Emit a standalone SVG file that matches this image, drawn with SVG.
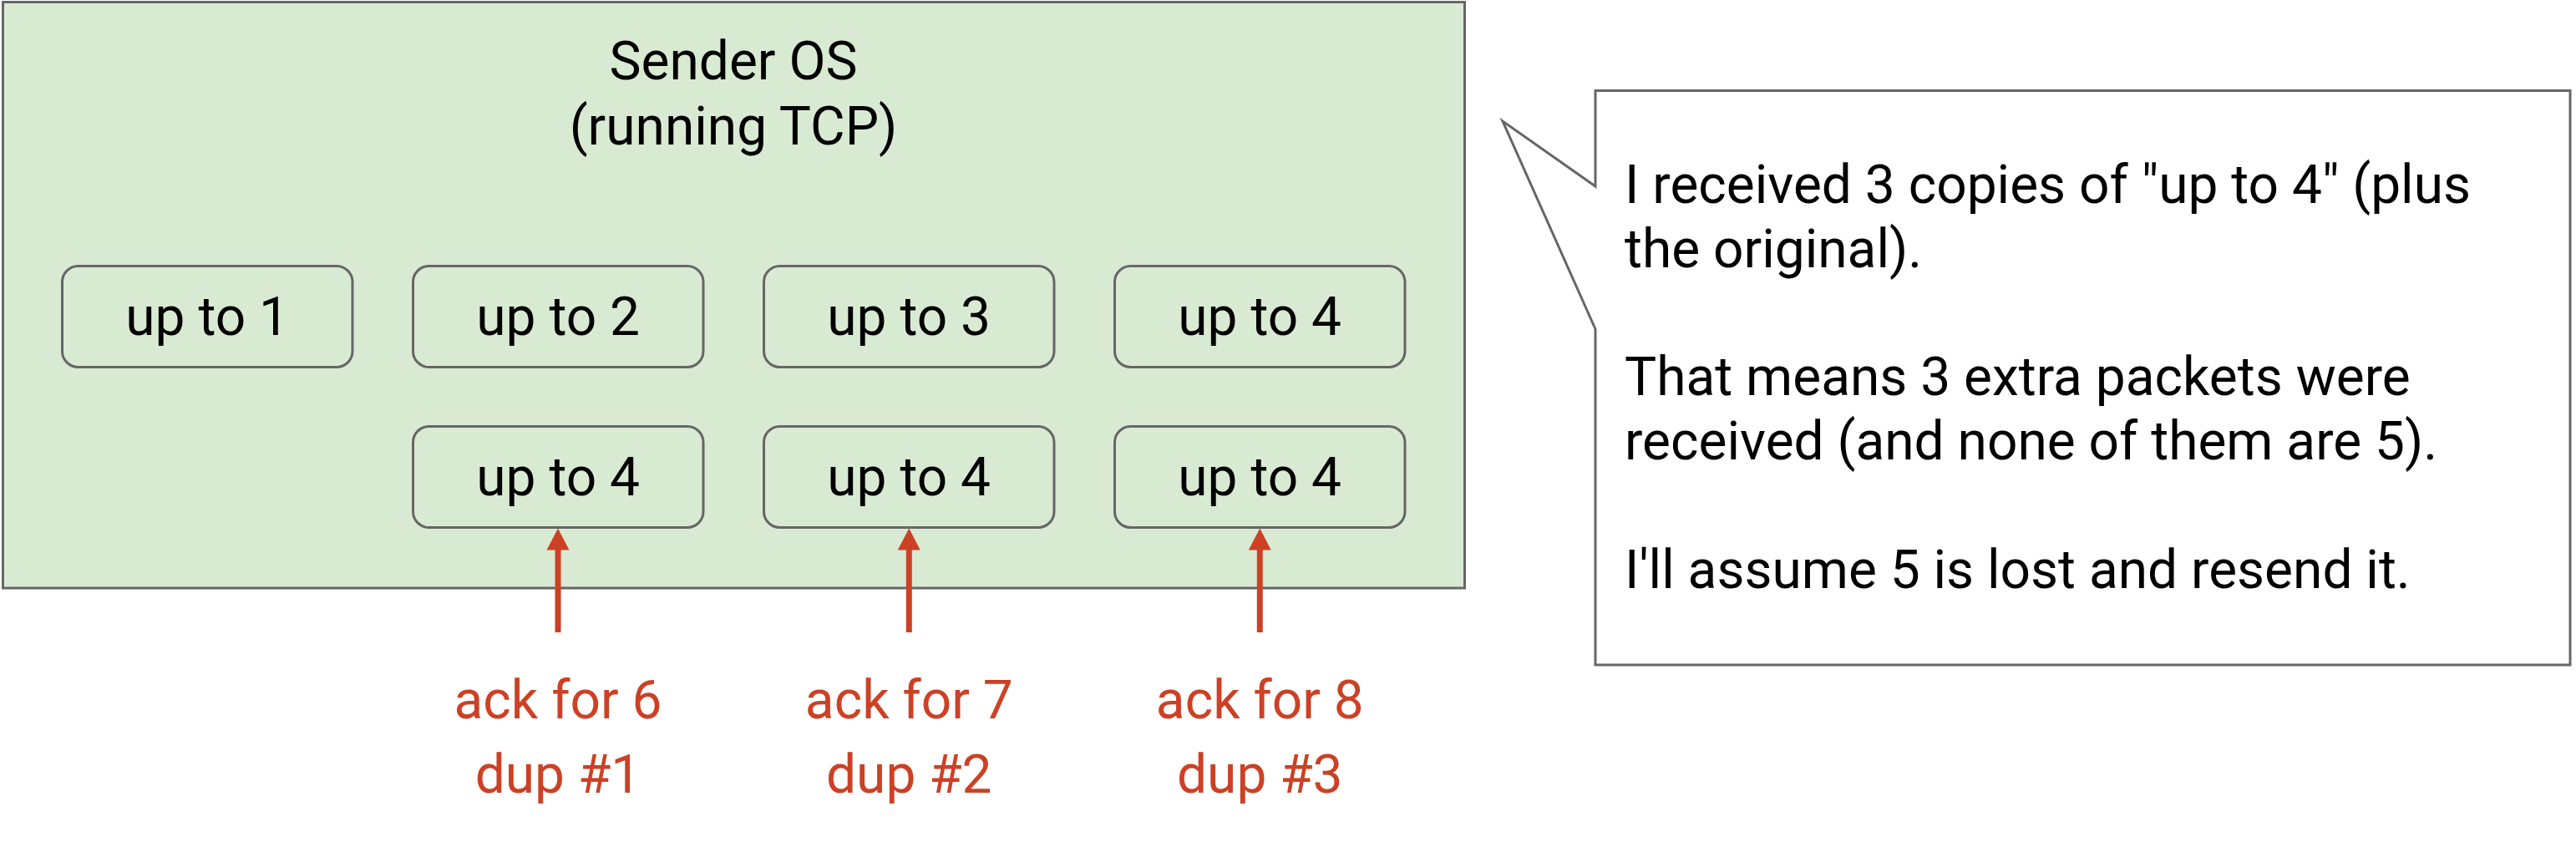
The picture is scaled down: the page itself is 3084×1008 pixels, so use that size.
<svg xmlns="http://www.w3.org/2000/svg" width="3084" height="1008" viewBox="0 0 3084 1008">
<style>
text { font-family: Roboto, "Liberation Sans", Arial, sans-serif; font-size: 64px; fill: #000000; }
.c { text-anchor: middle; }
.ack { fill: #cc4125; text-anchor: middle; }
.pkt { fill: #d9ead3; stroke: #666666; stroke-width: 3; }
.conn line { stroke: #cc4125; stroke-width: 7; }
.conn polygon { fill: #cc4125; }
</style>
<rect width="3084" height="1008" fill="#ffffff"/>
<g id="sender-os">
  <rect x="3.5" y="2.5" width="1750" height="701.5" fill="#d9ead3" stroke="#666666" stroke-width="3"/>
  <text class="c" x="878" y="95">Sender OS</text>
  <text class="c" x="878" y="172.7">(running TCP)</text>
</g>
<g id="pkt-1"><rect class="pkt" x="74.5" y="318.5" width="347.5" height="121" rx="19"/><text class="c" x="248.2" y="400.7">up to 1</text></g>
<g id="pkt-2"><rect class="pkt" x="494.5" y="318.5" width="347.5" height="121" rx="19"/><text class="c" x="668.2" y="400.7">up to 2</text></g>
<g id="pkt-3"><rect class="pkt" x="914.5" y="318.5" width="347.5" height="121" rx="19"/><text class="c" x="1088.2" y="400.7">up to 3</text></g>
<g id="pkt-4"><rect class="pkt" x="1334.5" y="318.5" width="347.5" height="121" rx="19"/><text class="c" x="1508.2" y="400.7">up to 4</text></g>
<g id="dup-1"><rect class="pkt" x="494.5" y="510.5" width="347.5" height="121" rx="19"/><text class="c" x="668.2" y="593.3">up to 4</text></g>
<g id="dup-2"><rect class="pkt" x="914.5" y="510.5" width="347.5" height="121" rx="19"/><text class="c" x="1088.2" y="593.3">up to 4</text></g>
<g id="dup-3"><rect class="pkt" x="1334.5" y="510.5" width="347.5" height="121" rx="19"/><text class="c" x="1508.2" y="593.3">up to 4</text></g>
<g id="connectors" class="conn">
  <line x1="668" y1="757" x2="668" y2="656"/>
  <polygon points="668,632.5 654.5,658.5 681.5,658.5"/>
  <line x1="1088.3" y1="757" x2="1088.3" y2="656"/>
  <polygon points="1088.3,632.5 1074.8,658.5 1101.8,658.5"/>
  <line x1="1508.3" y1="757" x2="1508.3" y2="656"/>
  <polygon points="1508.3,632.5 1494.8,658.5 1521.8,658.5"/>
</g>
<g id="ack-6"><text class="ack" x="668" y="860">ack for 6</text><text class="ack" x="668" y="949">dup #1</text></g>
<g id="ack-7"><text class="ack" x="1088.3" y="860">ack for 7</text><text class="ack" x="1088.3" y="949">dup #2</text></g>
<g id="ack-8"><text class="ack" x="1508.3" y="860">ack for 8</text><text class="ack" x="1508.3" y="949">dup #3</text></g>
<g id="callout">
  <path d="M1910,108.5 H3077 V796 H1910 V394 L1799,145 L1910,223 Z" fill="#ffffff" stroke="#666666" stroke-width="3" stroke-linejoin="miter"/>
  <text x="1945" y="243.3">I received 3 copies of "up to 4" (plus</text>
  <text x="1945" y="320">the original).</text>
  <text x="1945" y="473.4">That means 3 extra packets were</text>
  <text x="1945" y="550">received (and none of them are 5).</text>
  <text x="1945" y="703.5">I'll assume 5 is lost and resend it.</text>
</g>
</svg>
